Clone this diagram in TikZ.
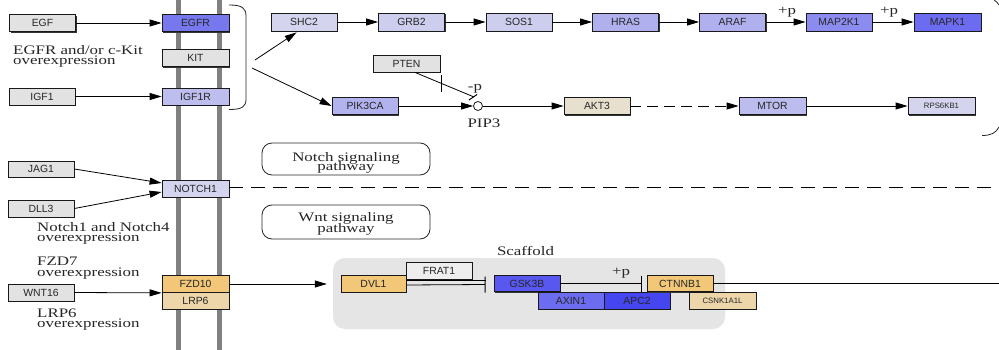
\documentclass[tikz,border=0pt]{standalone}
\usepackage{fontspec}
\setmainfont{Liberation Serif}
\newfontfamily\boxfont{Liberation Sans}
\usetikzlibrary{arrows.meta,calc,shadows}
\newcommand\widen[1]{\scalebox{1.3}[1]{#1}}
\definecolor{kgray}{RGB}{226,226,226}
\definecolor{kfrat}{RGB}{238,238,238}
\definecolor{cEGFR}{RGB}{120,120,238}
\definecolor{cIGF1R}{RGB}{190,190,238}
\definecolor{cL}{RGB}{212,212,238}
\definecolor{cGRB}{RGB}{205,205,238}
\definecolor{cHRAS}{RGB}{176,176,238}
\definecolor{cMAPKK}{RGB}{140,140,240}
\definecolor{cMAPK}{RGB}{108,108,240}
\definecolor{cPIK}{RGB}{178,178,238}
\definecolor{cMTOR}{RGB}{188,188,238}
\definecolor{cAKT}{RGB}{232,224,206}
\definecolor{corange}{RGB}{242,200,120}
\definecolor{cbeige}{RGB}{236,214,170}
\definecolor{cGSK}{RGB}{88,88,240}
\definecolor{cAXIN}{RGB}{108,108,240}
\definecolor{cAPC}{RGB}{70,70,240}
\definecolor{memb}{RGB}{128,128,128}
\definecolor{scaf}{RGB}{229,229,229}
\begin{document}
\begin{tikzpicture}[x=1pt,y=-1pt,
  kbox/.style={draw=black!90, line width=0.8pt, minimum width=66pt, minimum height=17pt,
    inner sep=0pt, font=\boxfont\fontsize{10.4}{12}\selectfont, text=black!85,
    drop shadow={shadow xshift=1.1pt, shadow yshift=-1.1pt, fill=black!80, opacity=1}},
  smalltext/.style={font=\boxfont\fontsize{7.8}{9}\selectfont},
  arr/.style={-{Triangle[length=12pt,width=7pt]}, line width=0.8pt},
  inh/.style={-{Bar[width=16pt,line width=1pt]}, line width=0.8pt},
  lab/.style={font=\fontsize{13}{10}\selectfont, inner sep=0pt, text=black!85},
  pw/.style={draw=black!85, line width=0.8pt, rounded corners=10pt, minimum width=168pt, inner sep=0pt},
  membrane/.style={draw=memb, line width=4.5pt}
]
\fill[white] (0,0) rectangle (999,350);
\useasboundingbox (0,0) rectangle (999,350);

% membranes
\draw[membrane] (178.5,0) -- (178.5,350);
\draw[membrane] (219.5,0) -- (219.5,350);

% scaffold background
\node[fill=scaf, rounded corners=12pt, minimum width=392pt, minimum height=71pt, inner sep=0pt] (Scaffold) at (529,293.5) {};
\node[lab, anchor=base] (scaflab) at (525.5,255.7) {\widen{Scaffold}};

% pathway boxes
\node[pw, minimum height=32pt] (notchpw) at (346,159) {};
\node[lab, anchor=base] (notchA) at (346,161) {\widen{Notch signaling}};
\node[lab, anchor=base] (notchB) at (346,171) {\widen{pathway}};
\node[pw, minimum height=34pt] (wntpw) at (346,222) {};
\node[lab, anchor=base] (wntA) at (346,222) {\widen{Wnt signaling}};
\node[lab, anchor=base] (wntB) at (346,232) {\widen{pathway}};

% receptor column
\node[kbox, fill=kgray] (EGF) at (42.5,23) {EGF};
\node[kbox, fill=cEGFR, minimum width=67pt] (EGFR) at (195.5,23) {EGFR};
\node[kbox, fill=kgray, minimum width=67pt] (KIT) at (195.5,58) {KIT};
\node[kbox, fill=kgray] (IGF1) at (42,96.5) {IGF1};
\node[kbox, fill=cIGF1R, minimum width=67pt] (IGF1R) at (195.5,96.5) {IGF1R};
\node[kbox, fill=kgray, minimum height=16pt] (JAG1) at (41,169) {JAG1};
\node[kbox, fill=kgray] (DLL3) at (41,208.5) {DLL3};
\node[kbox, fill=cL, minimum width=67pt] (NOTCH1) at (195.5,188.5) {NOTCH1};
\node[kbox, fill=kgray] (WNT16) at (41,292.5) {WNT16};
\node[kbox, fill=corange, minimum width=67pt] (FZD10) at (195.5,284) {FZD10};
\node[kbox, fill=cbeige, minimum width=67pt] (LRP6) at (195.5,300.5) {LRP6};

% left labels
\node[lab, anchor=base west] (l1a) at (13,55) {\widen{EGFR and/or c-Kit}};
\node[lab, anchor=base west] (l1b) at (13,64.5) {\widen{overexpression}};
\node[lab, anchor=base west] (l2a) at (37,231.7) {\widen{Notch1 and Notch4}};
\node[lab, anchor=base west] (l2b) at (37,241.7) {\widen{overexpression}};
\node[lab, anchor=base west] (l3a) at (37,265) {\widen{FZD7}};
\node[lab, anchor=base west] (l3b) at (37,276) {\widen{overexpression}};
\node[lab, anchor=base west] (l4a) at (37,317.3) {\widen{LRP6}};
\node[lab, anchor=base west] (l4b) at (37,327.3) {\widen{overexpression}};

% top row
\node[kbox, fill=cL, minimum height=18pt] (SHC2) at (304,22) {SHC2};
\node[kbox, fill=cGRB, minimum height=18pt] (GRB2) at (411.5,22) {GRB2};
\node[kbox, fill=cGRB, minimum height=18pt] (SOS1) at (519,22) {SOS1};
\node[kbox, fill=cHRAS, minimum height=18pt] (HRAS) at (625.5,22) {HRAS};
\node[kbox, fill=cHRAS, minimum height=18pt] (ARAF) at (732.5,22) {ARAF};
\node[kbox, fill=cMAPKK, minimum height=18pt] (MAP2K1) at (839,22) {MAP2K1};
\node[kbox, fill=cMAPK, minimum height=18pt, minimum width=67pt] (MAPK1) at (947.5,22) {MAPK1};

% PI3K row
\node[kbox, fill=kgray, minimum width=67pt] (PTEN) at (406.5,63.5) {PTEN};
\node[kbox, fill=cPIK] (PIK3CA) at (365,106) {PIK3CA};
\node[draw=black!90, line width=0.8pt, circle, minimum size=9pt, inner sep=0pt, fill=white] (PIP3) at (478,106) {};
\node[lab, anchor=base] (pip3lab) at (484,127.7) {\widen{PIP3}};
\node[kbox, fill=cAKT] (AKT3) at (597,106) {AKT3};
\node[kbox, fill=cMTOR, minimum width=67pt] (MTOR) at (772.5,106) {MTOR};
\node[kbox, fill=cL, minimum width=67pt, smalltext] (RPS6KB1) at (941.5,106) {RPS6KB1};

% scaffold members
\node[kbox, fill=kfrat] (FRAT1) at (439,270.5) {FRAT1};
\node[kbox, fill=corange, minimum width=65pt, minimum height=16.5pt] (DVL1) at (373.5,284) {DVL1};
\node[kbox, fill=cGSK, minimum height=16.5pt] (GSK3B) at (527,283.5) {GSK3B};
\node[kbox, fill=cAXIN] (AXIN1) at (571,300.5) {AXIN1};
\node[kbox, fill=cAPC] (APC2) at (637,300.5) {APC2};
\node[kbox, fill=corange, minimum height=16.5pt] (CTNNB1) at (680,283.5) {CTNNB1};
\node[kbox, fill=cbeige, minimum width=67pt, smalltext] (CSNK1A1L) at (722.5,300.5) {CSNK1A1L};

% brackets
\draw[line width=0.8pt, black!85] (229,5) .. controls (242,5) and (246,8) .. (246,16) -- (246,99)
  .. controls (246,107) and (242,109.5) .. (229,109.5);
\draw[line width=0.8pt, black!85] (982,135.5) .. controls (991,135.5) and (996,133) .. (999,127);
\draw[line width=0.8pt, black!85] (994,0) .. controls (996,1) and (998,3) .. (999,5);
\coordinate (brA) at (255,60);
\coordinate (brB) at (252,68);

% connectors
\draw[arr] (EGF) -- (EGFR);
\draw[arr] (IGF1) -- (IGF1R);
\draw[arr] (JAG1.east) -- ($(NOTCH1.west)+(0,-5.5)$);
\draw[arr] (DLL3.east) -- ($(NOTCH1.west)+(0,3.5)$);
\draw[arr] (WNT16.east) -- (FZD10.south west);
\draw[arr] (FZD10.east) -- ($(Scaffold.west |- FZD10.east)+(-6,0)$);
\draw[arr] (brA) -- ($(SHC2.south west)+(26,1)$);
\draw[arr] (brB) -- (PIK3CA.west);

\draw[arr] (SHC2) -- (GRB2);
\draw[arr] (GRB2) -- (SOS1);
\draw[arr] (SOS1) -- (HRAS);
\draw[arr] (HRAS) -- (ARAF);
\draw[arr] (ARAF) -- (MAP2K1);
\draw[arr] (MAP2K1) -- (MAPK1);
\node[lab, anchor=base] (p1) at (787,14.5) {\widen{+p}};
\node[lab, anchor=base] (p2) at (889,14.5) {\widen{+p}};

\draw[arr] (PIK3CA) -- (PIP3);
\draw[arr] (PIP3) -- (AKT3);
\draw[arr, dash pattern=on 11pt off 6pt] (AKT3) -- (MTOR);
\draw[arr] (MTOR) -- (RPS6KB1);

\coordinate (ps) at ($(PTEN.south)+(8.5,0)$);
\coordinate (pe) at ($(PIP3)+(-4,-9)$);
\draw[line width=0.8pt] (ps) -- (pe);
\draw[line width=1pt] ($(ps)!0.45!(pe)+(0,-8.5)$) -- ($(ps)!0.45!(pe)+(0,8.5)$);
\draw[line width=1pt] ($(pe)+(-5,3)$) -- ($(pe)+(3,-2.5)$);
\node[lab, anchor=base] (mp) at (475,90.5) {\widen{-p}};

% notch dashed
\coordinate (redge) at (999,0);
\draw[line width=0.8pt, dash pattern=on 14pt off 8pt] ($(NOTCH1.east)+(0,-1.5)$) -- ($(NOTCH1.east -| redge)+(0,-1.5)$);

% scaffold inhibitions
\draw[line width=0.8pt] ($(DVL1.east)+(0,-4)$) -- ($(GSK3B.west)+(-8,-3.5)$);
\draw[inh] ($(DVL1.east)+(0,1)$) -- ($(GSK3B.west)+(-8,1)$);
\draw[inh] (GSK3B.east) -- ($(CTNNB1.west)+(-5,0)$);
\node[lab, anchor=base] (p3) at (621,275.5) {\widen{+p}};
\draw[line width=0.8pt] (CTNNB1.east) -- (CTNNB1.east -| redge);
\end{tikzpicture}
\end{document}
